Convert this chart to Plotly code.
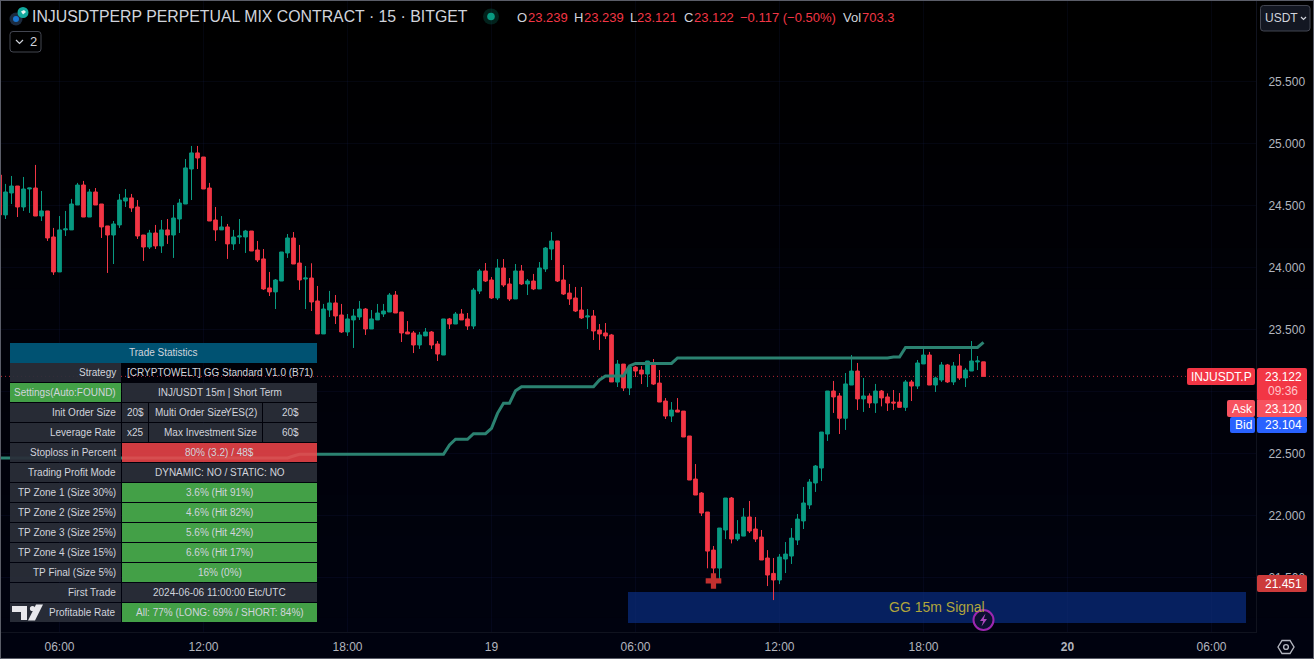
import pandas as pd
import plotly.graph_objects as go

# ---------- data ----------
start_time = "2024-06-18 03:30"
partial_first = [24.746, 24.78, 24.42, 24.424]   # O H L C of the clipped first candle

opens = [
24.424,24.601,24.657,24.488,24.633,24.641,24.415,24.456,24.246,23.964,
24.303,24.303,24.504,24.665,24.407,24.609,24.512,24.335,24.262,24.343,
24.536,24.561,24.488,24.262,24.165,24.278,24.174,24.303,24.262,24.391,
24.512,24.794,24.924,24.891,24.641,24.383,24.303,24.327,24.190,24.246,
24.246,24.294,24.141,24.069,23.835,23.803,23.891,24.117,24.238,24.036,
23.907,23.915,23.730,23.464,23.657,23.714,23.617,23.480,23.577,23.601,
23.665,23.504,23.577,23.625,23.641,23.778,23.641,23.480,23.472,23.375,
23.448,23.480,23.383,23.294,23.585,23.544,23.625,23.585,23.528,23.810,
23.972,23.899,23.754,23.996,23.867,23.746,23.972,23.867,23.891,23.827,
23.988,24.149,24.214,23.899,23.794,23.754,23.657,23.601,23.609,23.496,
23.472,23.456,23.076,23.221,23.028,23.197,23.173,23.141,23.230,23.068,
22.923,22.802,22.850,22.842,22.641,22.294,22.181,22.028,21.721,21.576,
21.883,22.141,21.810,21.834,21.988,21.891,21.826,21.657,21.533,21.480,
21.649,21.673,21.802,21.956,22.085,22.262,22.383,22.657,23.004,22.964,
22.784,23.052,23.165,22.940,22.964,22.907,23.004,22.956,22.915,22.915,
22.872,23.077,23.044,23.222,23.294,23.052,23.093,23.214,23.077,23.206,
23.109,23.165,23.238,23.239]

highs = [
24.674,24.738,24.657,24.730,24.641,24.827,24.617,24.456,24.319,24.415,
24.456,24.553,24.682,24.698,24.633,24.641,24.512,24.335,24.375,24.593,
24.633,24.593,24.544,24.262,24.303,24.343,24.383,24.391,24.504,24.553,
24.875,24.980,24.980,24.891,24.682,24.488,24.415,24.351,24.303,24.391,
24.303,24.294,24.214,24.149,23.964,23.907,24.125,24.270,24.286,24.182,
24.012,24.034,23.851,23.706,23.811,23.778,23.706,23.625,23.665,23.730,
23.673,23.657,23.706,23.706,23.794,23.810,23.641,23.568,23.488,23.480,
23.512,23.488,23.407,23.585,23.593,23.641,23.665,23.633,23.835,23.988,
24.036,23.923,24.068,24.068,23.915,24.028,24.020,23.907,23.948,24.044,
24.165,24.286,24.214,24.020,23.867,23.843,23.843,23.665,23.657,23.544,
23.552,23.464,23.254,23.221,23.213,23.205,23.205,23.246,23.262,23.173,
22.947,22.915,22.947,22.842,22.641,22.415,22.189,22.028,21.754,21.899,
22.141,22.149,21.963,22.060,22.117,21.988,21.883,21.721,21.657,21.689,
21.786,21.899,22.012,22.230,22.294,22.407,22.673,23.004,23.085,22.988,
23.149,23.294,23.230,23.109,22.985,23.061,23.012,22.985,23.012,22.988,
23.093,23.093,23.254,23.351,23.319,23.120,23.238,23.222,23.238,23.302,
23.190,23.407,23.286,23.239]

lows = [
24.391,24.512,24.407,24.456,24.440,24.415,24.375,24.214,23.940,23.964,
24.254,24.303,24.504,24.407,24.407,24.504,24.238,23.956,24.028,24.319,
24.488,24.448,24.230,24.053,24.149,24.149,24.117,24.190,24.077,24.278,
24.512,24.544,24.794,24.633,24.375,24.214,24.303,24.069,24.141,24.190,
24.117,24.133,24.044,23.819,23.770,23.665,23.891,24.077,24.028,23.819,
23.665,23.649,23.464,23.464,23.601,23.544,23.472,23.448,23.351,23.577,
23.456,23.504,23.577,23.601,23.641,23.633,23.399,23.464,23.310,23.343,
23.448,23.343,23.246,23.294,23.504,23.544,23.577,23.496,23.504,23.786,
23.883,23.746,23.738,23.843,23.730,23.746,23.859,23.778,23.818,23.827,
23.964,24.060,23.883,23.778,23.698,23.641,23.585,23.504,23.415,23.335,
23.423,23.077,23.036,23.004,22.971,23.117,23.060,23.036,23.052,22.915,
22.778,22.754,22.834,22.633,22.286,22.165,21.996,21.574,21.512,21.480,
21.810,21.775,21.794,21.834,21.859,21.786,21.641,21.431,21.318,21.447,
21.536,21.609,21.762,21.891,22.052,22.190,22.278,22.601,22.827,22.657,
22.690,23.052,22.851,22.835,22.867,22.827,22.880,22.843,22.851,22.872,
22.843,22.923,23.020,23.222,23.052,22.996,23.077,23.069,23.052,23.093,
23.036,23.165,23.173,23.121]

closes = [
24.609,24.657,24.488,24.633,24.641,24.415,24.456,24.238,23.964,24.303,
24.311,24.512,24.665,24.407,24.609,24.504,24.327,24.262,24.351,24.544,
24.561,24.480,24.254,24.165,24.278,24.174,24.303,24.262,24.399,24.520,
24.803,24.924,24.883,24.633,24.375,24.303,24.327,24.190,24.246,24.254,
24.294,24.133,24.061,23.827,23.803,23.899,24.125,24.238,24.028,23.899,
23.915,23.722,23.464,23.665,23.714,23.609,23.480,23.585,23.609,23.665,
23.504,23.585,23.633,23.649,23.778,23.633,23.472,23.464,23.375,23.456,
23.480,23.375,23.302,23.585,23.544,23.625,23.577,23.528,23.818,23.972,
23.891,23.754,23.996,23.859,23.746,23.972,23.867,23.891,23.827,23.996,
24.157,24.214,23.891,23.786,23.746,23.649,23.593,23.609,23.488,23.464,
23.448,23.077,23.221,23.028,23.197,23.165,23.141,23.246,23.060,22.915,
22.802,22.850,22.834,22.633,22.286,22.165,22.020,21.713,21.576,21.899,
22.141,21.810,21.850,21.988,21.875,21.810,21.641,21.520,21.480,21.665,
21.689,21.818,21.971,22.101,22.270,22.399,22.673,23.004,22.956,22.784,
23.061,23.165,22.940,22.964,22.907,23.004,22.948,22.907,22.907,22.872,
23.077,23.044,23.230,23.294,23.052,23.109,23.214,23.077,23.206,23.109,
23.173,23.246,23.246,23.122]

# indicator line: candle number (0 = first full candle) and value
line_candle = [-1, 47, 48, 49, 73, 74, 75, 77, 78, 80, 81, 82, 83, 84, 85, 86, 98, 99, 100, 103, 104, 105, 111, 112, 147, 148, 149, 150, 162, 163]
line_value = [22.464, 22.464, 22.480, 22.494, 22.494, 22.569, 22.615, 22.615, 22.660, 22.660, 22.703, 22.824, 22.905, 22.905,
              23.006, 23.039, 23.039, 23.093, 23.125, 23.125, 23.206, 23.226, 23.226, 23.270, 23.270, 23.278, 23.278, 23.355, 23.355, 23.397]

stop_candle = 118
stop_value = 21.472
stop_label = 21.451
last_price = 23.122
ask_price = 23.120
bid_price = 23.104
countdown = "09:36"

price_ticks = [25.5, 25.0, 24.5, 24.0, 23.5, 23.0, 22.5, 22.0, 21.5]
price_tick_labels = ["25.500", "25.000", "24.500", "24.000", "23.500", "", "22.500", "22.000", "21.500"]
time_ticks = ["2024-06-18 06:00", "2024-06-18 12:00", "2024-06-18 18:00", "2024-06-19 00:00", "2024-06-19 06:00",
              "2024-06-19 12:00", "2024-06-19 18:00", "2024-06-20 00:00", "2024-06-20 06:00"]
time_labels = ["06:00", "12:00", "18:00", "19", "06:00", "12:00", "18:00", "<b>20</b>", "06:00"]

title_text = "INJUSDTPERP PERPETUAL MIX CONTRACT · 15 · BITGET"
ohlc_letters = ["O", "H", "L", "C"]
ohlc_values = ["23.239", "23.239", "23.121", "23.122"]
change_text = "−0.117 (−0.50%)"
volume_text = "703.3"

table_title = "Trade Statistics"
table_labels = ["Strategy", "Settings(Auto:FOUND)", "Init Order Size", "Leverage Rate", "Stoploss in Percent",
                "Trading Profit Mode", "TP Zone 1 (Size 30%)", "TP Zone 2 (Size 25%)", "TP Zone 3 (Size 25%)",
                "TP Zone 4 (Size 15%)", "TP Final (Size 5%)", "First Trade", "Profitable Rate"]
table_values = ["[CRYPTOWELT] GG Standard V1.0 (B71)", "INJ/USDT 15m | Short Term", None, None, "80% (3.2) / 48$",
                "DYNAMIC: NO / STATIC: NO", "3.6% (Hit 91%)", "4.6% (Hit 82%)", "5.6% (Hit 42%)", "6.6% (Hit 17%)",
                "16% (0%)", "2024-06-06 11:00:00 Etc/UTC", "All: 77% (LONG: 69% / SHORT: 84%)"]
order_row = ["20$", "Multi Order Size", "YES(2)", "20$"]
leverage_row = ["x25", "Max Investment Size", "60$"]

# ---------- layout helpers ----------
W, H = 1314, 659
L, T, R, B = 1, 1, 1256, 632
FONT = "Liberation Sans"
UP, DOWN = "#089981", "#f23645"
TXT = "#d1d4dc"

def px(x):
    return (x - L) / (R - L)

def py(y):
    return 1 - (y - T) / (B - T)

shapes = []
annots = []

def rect(x0, y0, x1, y1, fill, layer="above", line=None, lw=0):
    shapes.append(dict(type="rect", xref="paper", yref="paper", x0=px(x0), x1=px(x1), y0=py(y0), y1=py(y1),
                       fillcolor=fill, layer=layer, line=dict(color=line or "rgba(0,0,0,0)", width=lw)))

def rrect(x0, y0, x1, y1, r, fill, line=None, lw=0):
    p = (f"M{px(x0+r)},{py(y0)} L{px(x1-r)},{py(y0)} Q{px(x1)},{py(y0)} {px(x1)},{py(y0+r)} "
         f"L{px(x1)},{py(y1-r)} Q{px(x1)},{py(y1)} {px(x1-r)},{py(y1)} L{px(x0+r)},{py(y1)} "
         f"Q{px(x0)},{py(y1)} {px(x0)},{py(y1-r)} L{px(x0)},{py(y0+r)} Q{px(x0)},{py(y0)} {px(x0+r)},{py(y0)} Z")
    shapes.append(dict(type="path", xref="paper", yref="paper", path=p, fillcolor=fill, layer="above",
                       line=dict(color=line or "rgba(0,0,0,0)", width=lw)))

def poly(points, fill="rgba(0,0,0,0)", line=None, lw=0, close=True):
    p = "M" + " L".join(f"{px(a)},{py(b)}" for a, b in points) + (" Z" if close else "")
    shapes.append(dict(type="path", xref="paper", yref="paper", path=p, fillcolor=fill, layer="above",
                       line=dict(color=line or "rgba(0,0,0,0)", width=lw)))

def circle(cx, cy, r, fill, line=None, lw=0):
    shapes.append(dict(type="circle", xref="paper", yref="paper", x0=px(cx-r), x1=px(cx+r), y0=py(cy-r), y1=py(cy+r),
                       fillcolor=fill, layer="above", line=dict(color=line or "rgba(0,0,0,0)", width=lw)))

def label(x, y, text, color=TXT, size=10, anchor="center"):
    annots.append(dict(xref="paper", yref="paper", x=px(x), y=py(y), text=text, showarrow=False, xanchor=anchor,
                       yanchor="middle", borderpad=0, font=dict(family=FONT, size=size, color=color)))

# background gradient, black at the top and faintly blue at the bottom
for k in range(16):
    y0 = k * H / 16
    rect(0, y0, W, y0 + H / 16 + 0.5, f"rgb(0,{min(k // 6, 2)},{k})", layer="below")

# ---------- traces ----------
times = pd.date_range(start_time, periods=len(opens) + 1, freq="15min")
o = [partial_first[0]] + opens
h = [partial_first[1]] + highs
l = [partial_first[2]] + lows
c = [partial_first[3]] + closes

fig = go.Figure()
fig.add_trace(go.Candlestick(
    x=times, open=o, high=h, low=l, close=c, whiskerwidth=0, hoverinfo="skip", showlegend=False,
    increasing=dict(line=dict(color=UP, width=1), fillcolor=UP),
    decreasing=dict(line=dict(color=DOWN, width=1), fillcolor=DOWN)))
fig.add_trace(go.Scatter(x=[times[i + 1] for i in line_candle], y=line_value, mode="lines", hoverinfo="skip",
                         showlegend=False, line=dict(color="#2b8271", width=3)))
fig.add_trace(go.Scatter(x=[times[stop_candle + 1]], y=[stop_value], mode="markers", hoverinfo="skip", showlegend=False,
                         marker=dict(symbol="cross", size=13, color="#c2302f", line=dict(width=0))))

# ---------- overlays ----------
# last price dotted line
shapes.append(dict(type="line", xref="paper", yref="y", x0=0, x1=px(1187), y0=last_price, y1=last_price, layer="between",
                   line=dict(color="rgba(242,54,69,0.75)", width=1, dash="1px,3px")))

# signal box
rect(628, 592, 1246, 623, "#06205f", layer="between")
label(937, 606.5, "GG 15m Signal", color="#b0a53c", size=14)
circle(983.5, 620, 10, "#0c1030", line="#9c27b0", lw=2)
poly([(985.5, 613.5), (980, 621), (983.2, 621), (981.5, 626.5), (987, 619), (983.8, 619)], fill="#ab47bc")

# statistics table
rows_top = 343
rect(10, rows_top, 317, rows_top + 20, "#005272")
label(163.5, rows_top + 9.5, table_title)
CELL = "rgba(42,46,57,0.93)"
GREEN = "#43a047"
for n, (lab, val) in enumerate(zip(table_labels, table_values)):
    y0 = rows_top + 20 * (n + 1)
    y1 = y0 + 19
    ym = y0 + 9.7
    lab_fill = GREEN if lab.startswith("Settings") else CELL
    rect(10, y0, 121, y1, lab_fill)
    label(117, ym, lab, anchor="right")
    if lab == "Strategy":
        pass
    elif lab == "Stoploss in Percent":
        rect(122, y0, 317, y1, "rgba(242,70,75,0.86)")
    elif lab.startswith("TP ") or lab == "Profitable Rate":
        rect(122, y0, 317, y1, GREEN)
    elif val is not None:
        rect(122, y0, 317, y1, CELL)
    if val is not None:
        label(219.5, ym, val)
    elif lab == "Init Order Size":
        rect(122, y0, 148, y1, CELL); rect(149, y0, 262, y1, CELL); rect(263, y0, 317, y1, CELL)
        label(135, ym, order_row[0])
        label(154, ym, order_row[1], anchor="left")
        label(258, ym, order_row[2], anchor="right")
        label(290, ym, order_row[3])
    elif lab == "Leverage Rate":
        rect(122, y0, 148, y1, CELL); rect(149, y0, 262, y1, CELL); rect(263, y0, 317, y1, CELL)
        label(135, ym, leverage_row[0])
        label(258, ym, leverage_row[1], anchor="right")
        label(290, ym, leverage_row[2])

# TradingView mark
poly([(12, 606), (27, 606), (27, 620), (21, 620), (21, 612), (12, 612)], fill="#e8e8ec")
circle(32.5, 608.5, 2.6, "#e8e8ec")
poly([(36, 604.5), (43, 604.5), (35, 620.5), (28, 620.5)], fill="#e8e8ec")

# header
circle(16, 19, 6.5, "#1c2b3f")
circle(16, 19, 3, "#1976d2")
circle(23, 12.5, 5.5, "#12a89d")
poly([(21, 11.5), (24, 10), (26, 12), (23, 14.5)], fill="#e8f5f3")
label(30.5, 16.5, title_text, size=15.85, anchor="left")
circle(491, 16.5, 8, "rgba(8,153,129,0.22)")
circle(491, 16.5, 3.8, UP)
for xl, xv, ltr, val in zip([515.5, 572.5, 628.5, 682.5], [526.5, 582.5, 636.5, 693.5], ohlc_letters, ohlc_values):
    label(xl, 17.5, ltr, anchor="left", size=13)
    label(xv, 17.5, val, anchor="left", size=13, color=DOWN)
label(739, 17.5, change_text, anchor="left", size=13, color=DOWN)
label(842, 17.5, "Vol", anchor="left", size=13)
label(861, 17.5, volume_text, anchor="left", size=13, color=DOWN)

rrect(10, 31.5, 41, 52, 3, "rgba(0,0,0,0)", line="#434651", lw=1)
poly([(16, 40), (19.5, 43.5), (23, 40)], line=TXT, lw=1.2, close=False)
label(33, 41.5, "2", size=13)
rrect(1260.5, 5.5, 1310, 31, 3, "#131722", line="#434651", lw=1)
label(1264, 18, "USDT", size=12, anchor="left")
poly([(1301, 17), (1303.5, 19.5), (1306, 17)], line=TXT, lw=1.2, close=False)

# price scale labels
rrect(1187, 368, 1255, 385, 2, DOWN)
label(1221, 376.8, "INJUSDT.P", color="#ffffff", size=12)
rrect(1257, 368, 1307, 401, 2, DOWN)
label(1283, 377, f"{last_price:.3f}", color="#ffffff", size=12)
label(1283, 391, countdown, color="#ffc4c9", size=12)
rrect(1227, 400, 1255, 417, 2, "#f7525f")
label(1242, 408.5, "Ask", color="#ffffff", size=12)
rect(1257, 400, 1307, 417, "#f7525f")
label(1283, 408.5, f"{ask_price:.3f}", color="#ffffff", size=12)
rrect(1230, 417, 1255, 433, 2, "#2962ff")
label(1243, 425, "Bid", color="#ffffff", size=12)
rrect(1257, 417, 1307, 433, 2, "#2962ff")
label(1283, 425, f"{bid_price:.3f}", color="#ffffff", size=12)
rrect(1257, 575, 1307, 592, 2, "#cc3b3b")
label(1283, 583.5, f"{stop_label:.3f}", color="#ffffff", size=12)

# settings gear
poly([(1278, 647), (1282, 640.5), (1290, 640.5), (1294, 647), (1290, 653.5), (1282, 653.5)], line="#b2b5be", lw=1.4)
circle(1286, 647, 2.4, "rgba(0,0,0,0)", line="#b2b5be", lw=1.4)

# window border
shapes.append(dict(type="rect", xref="paper", yref="paper", x0=px(0), x1=px(W), y0=py(0), y1=py(H),
                   fillcolor="rgba(0,0,0,0)", layer="above", line=dict(color="#5a5d68", width=2)))

GRID = "rgba(30,50,120,0.12)"
fig.update_layout(
    width=W, height=H, margin=dict(l=L, r=W - R, t=T, b=H - B, pad=0, autoexpand=False),
    paper_bgcolor="#000000", plot_bgcolor="rgba(0,0,0,0)", boxgap=0.12, showlegend=False,
    shapes=shapes, annotations=annots, font=dict(family=FONT, color="#b2b5be", size=12), hovermode=False,
    xaxis=dict(type="date", range=["2024-06-18 03:33:45", "2024-06-20 07:51:15"], rangeslider=dict(visible=False),
               tickmode="array", tickvals=time_ticks, ticktext=time_labels, showgrid=True, gridcolor=GRID, gridwidth=1,
               zeroline=False, showline=True, linecolor="#10131f", ticks="", ticklabelstandoff=4,
               tickfont=dict(family=FONT, size=12, color="#b2b5be")),
    yaxis=dict(side="right", range=[21.0605, 26.149], tickmode="array", tickvals=price_ticks,
               ticktext=price_tick_labels, showgrid=True, gridcolor=GRID, gridwidth=1, zeroline=False,
               showline=True, linecolor="#10131f", ticks="", ticklabelstandoff=9,
               tickfont=dict(family=FONT, size=12, color="#b2b5be")),
)

fig.write_html("out.html", config={"displayModeBar": False},
               post_script="document.body.style.margin='0';document.body.style.background='#000';document.body.style.overflow='hidden';")
